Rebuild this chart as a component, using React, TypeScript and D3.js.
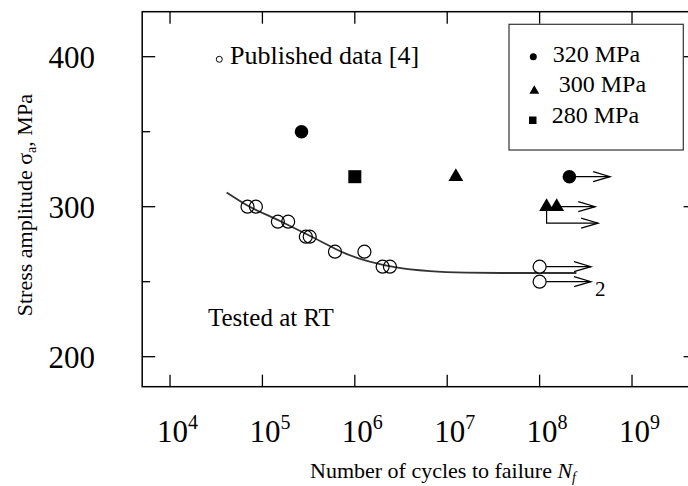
import React from 'react';
import * as d3 from 'd3';

// Published data (open circles)
const publishedCycles = [6.9e4, 8.5e4, 1.47e5, 1.9e5, 2.95e5, 3.25e5, 6.1e5, 1.27e6, 2.0e6, 2.4e6];
const publishedStress = [300, 300, 290, 290, 280, 280, 270, 270, 260, 260];
// Published run-outs (open circles with arrows)
const publishedRunoutCycles = [1e8, 1e8];
const publishedRunoutStress = [260, 250];
const publishedRunoutTip = [3.6e8, 3.6e8];
// Fitted S-N curve
const fitCycles = [4.1e4, 6.8e4, 1.55e5, 3.55e5, 8.1e5, 2.8e6, 6.5e6, 1.6e7, 4e7, 2.5e8];
const fitStress = [309.5, 301, 290.5, 279.5, 268.5, 259.5, 257, 256, 255.8, 255.8];
// Test series
const s320Cycles = [2.65e5, 2.1e8];
const s320Stress = [350, 320];
const s320RunoutTip = [null, 5.8e8];
const s300Cycles = [1.24e7, 1.19e8, 1.53e8];
const s300Stress = [320, 300, 300];
const s300RunoutTip = [null, null, 4.0e8];
const s300BranchStress = 289;
const s300BranchTip = 4.3e8;
const s280Cycles = [1e6];
const s280Stress = [320];
// Ticks
const xTickExp = [4, 5, 6, 7, 8, 9];
const yMajorTicks = [200, 300, 400];
const yMinorTicks = [250, 350];
const legendLabels = ['320 MPa', ' 300 MPa', '280 MPa'];

const W = 688, H = 486;
const FONT = '"Liberation Serif", "Times New Roman", serif';

export default function App() {
  const x = d3.scaleLog().domain([5e3, 5e9]).range([142.2, 696.6]);
  const y = d3.scaleLinear().domain([180, 430]).range([386.7, 11.7]);
  const left = x.range()[0], right = x.range()[1];
  const top = y.range()[1], bottom = y.range()[0];

  const fitLine = d3.line<number>()
    .x((d, i) => x(fitCycles[i]))
    .y((d) => y(d))
    .curve(d3.curveMonotoneX)(fitStress) || '';

  const tri = d3.symbol(d3.symbolTriangle, 95)() || '';
  const triSmall = d3.symbol(d3.symbolTriangle, 42)() || '';

  const arrowHead = (tx: number, ty: number, key: string) => (
    <path key={key} d={`M${tx - 17},${ty - 5} L${tx},${ty} L${tx - 17},${ty + 5}`} fill="none" stroke="#000" strokeWidth={1.2} />
  );

  return (
    <svg width={W} height={H} style={{ position: 'absolute', left: 0, top: 0, background: '#fff' }} fontFamily={FONT}>
      <defs>
        <clipPath id="plotclip"><rect x={left} y={top} width={right - left} height={bottom - top} /></clipPath>
      </defs>
      {/* frame */}
      <rect x={left} y={top} width={right - left} height={bottom - top} fill="none" stroke="#000" strokeWidth={1.5} />
      {/* x ticks */}
      {xTickExp.map((e) => {
        const px = x(Math.pow(10, e));
        return (
          <g key={'xt' + e}>
            <line x1={px} x2={px} y1={bottom} y2={bottom - 12} stroke="#000" strokeWidth={1.3} />
            <line x1={px} x2={px} y1={top} y2={top + 12} stroke="#000" strokeWidth={1.3} />
            <text x={px - 13} y={442} fontSize={31} fill="#000">10<tspan fontSize={20} dy={-13}>{e}</tspan></text>
          </g>
        );
      })}
      {/* y ticks */}
      {yMajorTicks.map((v) => (
        <g key={'ym' + v}>
          <line x1={left} x2={left + 13} y1={y(v)} y2={y(v)} stroke="#000" strokeWidth={1.3} />
          <line x1={right} x2={right - 13} y1={y(v)} y2={y(v)} stroke="#000" strokeWidth={1.3} />
          <text x={95} y={y(v) + 11} fontSize={31} textAnchor="end" fill="#000">{v}</text>
        </g>
      ))}
      {yMinorTicks.map((v) => (
        <g key={'yn' + v}>
          <line x1={left} x2={left + 8} y1={y(v)} y2={y(v)} stroke="#000" strokeWidth={1.3} />
          <line x1={right} x2={right - 8} y1={y(v)} y2={y(v)} stroke="#000" strokeWidth={1.3} />
        </g>
      ))}
      {/* axis titles */}
      <text transform={`translate(32,${(top + bottom) / 2 + 6}) rotate(-90)`} textAnchor="middle" fontSize={22} fill="#000">
        Stress amplitude σ<tspan fontSize={14} dy={4}>a</tspan><tspan dy={-4}>, MPa</tspan>
      </text>
      <text x={443} y={478} textAnchor="middle" fontSize={22} fill="#000">
        Number of cycles to failure <tspan fontStyle="italic">N</tspan><tspan fontStyle="italic" fontSize={14} dy={4}>f</tspan>
      </text>

      <g clipPath="url(#plotclip)">
        {/* fitted curve */}
        <path d={fitLine} fill="none" stroke="#333" strokeWidth={1.8} />
        {/* published data */}
        {publishedCycles.map((n, i) => (
          <circle key={'p' + i} cx={x(n)} cy={y(publishedStress[i])} r={6.5} fill="none" stroke="#000" strokeWidth={1.2} />
        ))}
        {publishedRunoutCycles.map((n, i) => {
          const cx = x(n), cy = y(publishedRunoutStress[i]), tx = x(publishedRunoutTip[i]);
          return (
            <g key={'pr' + i}>
              <line x1={cx + 6.5} x2={tx} y1={cy} y2={cy} stroke="#000" strokeWidth={1.2} />
              {arrowHead(tx, cy, 'pra' + i)}
              <circle cx={cx} cy={cy} r={6.5} fill="#fff" stroke="#000" strokeWidth={1.2} />
            </g>
          );
        })}
        <text x={x(publishedRunoutTip[1]) + 4} y={y(publishedRunoutStress[1]) + 14} fontSize={21} fill="#000">2</text>
        {/* 300 MPa branch run-out */}
        {(() => {
          const bx = x(s300Cycles[1]), by0 = y(s300Stress[1]), by = y(s300BranchStress), tx = x(s300BranchTip);
          return (
            <g>
              <path d={`M${bx},${by0} L${bx},${by} L${tx},${by}`} fill="none" stroke="#000" strokeWidth={1.2} />
              {arrowHead(tx, by, 'br')}
            </g>
          );
        })()}
        {/* run-out arrows for filled series */}
        {s320Cycles.map((n, i) => s320RunoutTip[i] ? (
          <g key={'s320a' + i}>
            <line x1={x(n)} x2={x(s320RunoutTip[i] as number)} y1={y(s320Stress[i])} y2={y(s320Stress[i])} stroke="#000" strokeWidth={1.2} />
            {arrowHead(x(s320RunoutTip[i] as number), y(s320Stress[i]), 'h')}
          </g>
        ) : null)}
        {s300Cycles.map((n, i) => s300RunoutTip[i] ? (
          <g key={'s300a' + i}>
            <line x1={x(n)} x2={x(s300RunoutTip[i] as number)} y1={y(s300Stress[i])} y2={y(s300Stress[i])} stroke="#000" strokeWidth={1.2} />
            {arrowHead(x(s300RunoutTip[i] as number), y(s300Stress[i]), 'h')}
          </g>
        ) : null)}
        {/* filled markers */}
        {s320Cycles.map((n, i) => (
          <circle key={'s320' + i} cx={x(n)} cy={y(s320Stress[i])} r={6.8} fill="#000" />
        ))}
        {s300Cycles.map((n, i) => (
          <path key={'s300' + i} d={tri} transform={`translate(${x(n)},${y(s300Stress[i])})`} fill="#000" />
        ))}
        {s280Cycles.map((n, i) => (
          <rect key={'s280' + i} x={x(n) - 6.5} y={y(s280Stress[i]) - 6.5} width={13} height={13} fill="#000" />
        ))}
      </g>

      {/* annotations */}
      <circle cx={219.3} cy={59.3} r={3} fill="none" stroke="#000" strokeWidth={1} />
      <text x={230} y={63.5} fontSize={26} fill="#000">Published data [4]</text>
      <text x={208} y={326} fontSize={25} fill="#000">Tested at RT</text>

      {/* legend */}
      <rect x={509} y={24.3} width={174.3} height={125.7} fill="#fff" stroke="#333" strokeWidth={1.2} />
      <circle cx={533.3} cy={56.7} r={3.5} fill="#000" />
      <path d={triSmall} transform="translate(534.3,91)" fill="#000" />
      <rect x={529} y={116.5} width={7.5} height={7.5} fill="#000" />
      <text x={552.7} y={61.7} fontSize={24} fill="#000">{legendLabels[0]}</text>
      <text x={552.7} y={92} fontSize={24} fill="#000" style={{ whiteSpace: 'pre' }}>{legendLabels[1]}</text>
      <text x={551.7} y={123.3} fontSize={24} fill="#000">{legendLabels[2]}</text>
    </svg>
  );
}
